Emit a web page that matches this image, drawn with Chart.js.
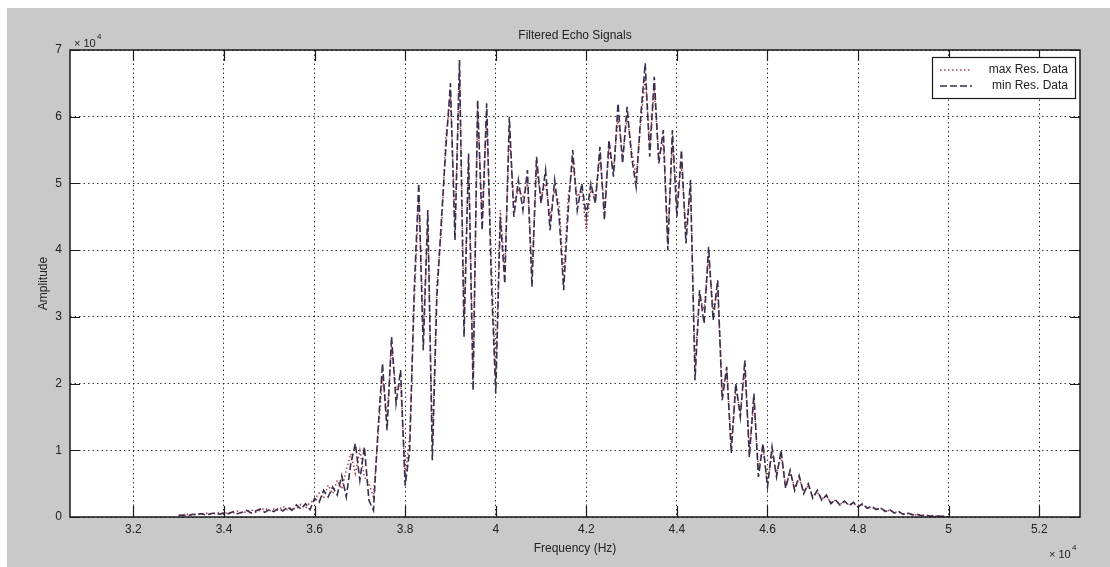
<!DOCTYPE html>
<html>
<head>
<meta charset="utf-8">
<title>Filtered Echo Signals</title>
<script src="https://cdn.jsdelivr.net/npm/chart.js@4.4.0/dist/chart.umd.min.js"></script>
<style>
  html, body { margin: 0; padding: 0; background: #fff; }
  canvas { display: block; }
</style>
</head>
<body>
<canvas id="echoChart" width="1110" height="567"></canvas>
<script>
// spectrum samples, frequency in units of 1e4 Hz, amplitude in units of 1e4
const freqStart = 3.30;
const freqStep = 0.01;

const minResData = [
  0.02, 0.03, 0.02, 0.04, 0.03, 0.05, 0.03, 0.05, 0.06, 0.04,
  0.06, 0.05, 0.08, 0.05, 0.07, 0.10, 0.06, 0.09, 0.12, 0.07,
  0.11, 0.08, 0.13, 0.09, 0.15, 0.10, 0.18, 0.12, 0.20, 0.11,
  0.28, 0.22, 0.40, 0.30, 0.45, 0.33, 0.62, 0.30, 0.80, 1.10,
  0.55, 1.05, 0.25, 0.10, 1.30, 2.30, 1.30, 2.70, 1.70, 2.20,
  0.47, 1.00, 3.40, 5.00, 2.50, 4.60, 0.85, 3.30, 4.45, 5.55,
  6.50, 4.15, 6.85, 2.70, 5.45, 1.90, 6.25, 4.30, 6.20, 3.60,
  1.85, 4.50, 3.50, 6.00, 4.50, 5.05, 4.60, 5.20, 3.45, 5.40,
  4.70, 5.20, 4.30, 5.05, 4.50, 3.40, 4.60, 5.50, 4.60, 5.00,
  4.50, 5.00, 4.70, 5.55, 4.45, 5.65, 5.10, 6.20, 5.30, 6.15,
  5.40, 4.95, 6.00, 6.80, 5.40, 6.60, 5.30, 5.80, 4.00, 5.80,
  4.50, 5.50, 4.10, 5.05, 2.05, 3.40, 2.90, 4.05, 2.95, 3.55,
  1.75, 2.25, 0.96, 2.00, 1.50, 2.35, 0.90, 1.85, 0.60, 1.10,
  0.45, 1.05, 0.60, 1.00, 0.43, 0.70, 0.40, 0.62, 0.35, 0.50,
  0.28, 0.40, 0.25, 0.33, 0.20, 0.26, 0.18, 0.24, 0.17, 0.22,
  0.15, 0.20, 0.13, 0.16, 0.11, 0.14, 0.08, 0.11, 0.06, 0.08,
  0.04, 0.06, 0.03, 0.04, 0.02, 0.03, 0.01, 0.02, 0.01, 0.01,
  0.00
];

const maxResData = [
  0.03, 0.02, 0.04, 0.03, 0.05, 0.04, 0.06, 0.04, 0.05, 0.07,
  0.05, 0.07, 0.06, 0.09, 0.06, 0.08, 0.11, 0.07, 0.10, 0.13,
  0.09, 0.12, 0.10, 0.16, 0.11, 0.14, 0.12, 0.19, 0.13, 0.22,
  0.25, 0.36, 0.28, 0.48, 0.35, 0.55, 0.42, 0.70, 0.95, 0.65,
  1.00, 0.60, 0.50, 0.30, 1.20, 2.10, 1.50, 2.55, 1.90, 2.00,
  0.60, 1.20, 3.20, 4.80, 2.80, 4.40, 1.10, 3.50, 4.30, 5.70,
  6.30, 4.40, 6.70, 3.00, 5.30, 2.20, 6.10, 4.50, 6.00, 3.90,
  2.10, 4.60, 3.70, 5.80, 4.70, 4.90, 4.80, 5.00, 3.70, 5.20,
  4.80, 5.00, 4.50, 4.90, 4.70, 3.60, 4.80, 5.30, 4.80, 4.90,
  4.30, 4.90, 4.80, 5.40, 4.60, 5.50, 5.20, 6.00, 5.40, 6.00,
  5.50, 5.10, 5.90, 6.60, 5.60, 6.40, 5.40, 5.60, 4.20, 5.60,
  4.70, 5.30, 4.30, 4.90, 2.30, 3.30, 3.10, 3.90, 3.10, 3.40,
  1.90, 2.15, 1.10, 1.90, 1.60, 2.20, 1.00, 1.75, 0.70, 1.05,
  0.50, 0.95, 0.65, 0.92, 0.48, 0.66, 0.44, 0.58, 0.38, 0.47,
  0.31, 0.37, 0.27, 0.31, 0.22, 0.25, 0.19, 0.23, 0.18, 0.20,
  0.16, 0.18, 0.14, 0.15, 0.12, 0.13, 0.09, 0.10, 0.07, 0.07,
  0.05, 0.05, 0.04, 0.03, 0.03, 0.02, 0.02, 0.01, 0.01, 0.01,
  0.00
];

const freqTicks = [3.2, 3.4, 3.6, 3.8, 4, 4.2, 4.4, 4.6, 4.8, 5, 5.2];
const ampTicks = [0, 1, 2, 3, 4, 5, 6, 7];

const seriesNames = ['max Res. Data', 'min Res. Data'];
const titleText = 'Filtered Echo Signals';
const xTitle = 'Frequency (Hz)';
const yTitle = 'Amplitude';

const FONT = '"Liberation Sans", Arial, sans-serif';
const TEXT = '#222';

const toPoints = vals => vals.map((v, i) => ({ x: +(freqStart + i * freqStep).toFixed(2), y: v }));

// gray figure, white axes, box, inner ticks, labels and legend
const matlabAxes = {
  id: 'matlabAxes',
  beforeDraw(chart) {
    const { ctx, width, height, chartArea: a } = chart;
    ctx.save();
    ctx.fillStyle = '#fff';
    ctx.fillRect(0, 0, width, height);
    ctx.fillStyle = '#c9c9c9';
    ctx.fillRect(7, 8, width - 7, height - 8);
    ctx.fillStyle = '#fff';
    ctx.fillRect(a.left, a.top, a.right - a.left, a.bottom - a.top);
    ctx.restore();
  },
  afterDraw(chart) {
    const { ctx, chartArea: a, scales: { x, y } } = chart;
    ctx.save();

    // box + tick marks
    ctx.strokeStyle = '#1a1a1a';
    ctx.lineWidth = 1.5;
    ctx.strokeRect(a.left, a.top, a.right - a.left, a.bottom - a.top);
    ctx.lineWidth = 1.2;
    ctx.beginPath();
    freqTicks.forEach(v => {
      const px = Math.round(x.getPixelForValue(v)) + 0.5;
      ctx.moveTo(px, a.bottom); ctx.lineTo(px, a.bottom - 11);
      ctx.moveTo(px, a.top); ctx.lineTo(px, a.top + 11);
    });
    ampTicks.forEach(v => {
      const py = Math.round(y.getPixelForValue(v)) + 0.5;
      ctx.moveTo(a.left, py); ctx.lineTo(a.left + 10, py);
      ctx.moveTo(a.right, py); ctx.lineTo(a.right - 10, py);
    });
    ctx.stroke();

    // titles
    const cx = (a.left + a.right) / 2;
    ctx.fillStyle = TEXT;
    ctx.textBaseline = 'middle';
    ctx.textAlign = 'center';
    ctx.font = '12px ' + FONT;
    ctx.fillText(titleText, cx, 36);
    ctx.fillText(xTitle, cx, 549);
    ctx.save();
    ctx.translate(44, (a.top + a.bottom) / 2);
    ctx.rotate(-Math.PI / 2);
    ctx.fillText(yTitle, 0, 0);
    ctx.restore();

    // axis multipliers
    ctx.textAlign = 'left';
    ctx.font = '11px ' + FONT;
    ctx.fillText('\u00d7 10', 74, 44);
    ctx.fillText('\u00d7 10', 1049, 555);
    ctx.font = '8px ' + FONT;
    ctx.fillText('4', 97, 37);
    ctx.fillText('4', 1072, 548);

    // legend
    const lx = 932, ly = 57, lw = 143, lh = 41;
    ctx.fillStyle = '#fff';
    ctx.fillRect(lx, ly, lw, lh);
    ctx.strokeStyle = '#1a1a1a';
    ctx.lineWidth = 1.2;
    ctx.strokeRect(lx + 0.5, ly + 0.5, lw, lh);
    const rows = [
      { y: 70, color: maxColor, dash: [1.5, 2.5] },
      { y: 86, color: minColor, dash: [7, 3] }
    ];
    rows.forEach((r, i) => {
      ctx.beginPath();
      ctx.setLineDash(r.dash);
      ctx.strokeStyle = r.color;
      ctx.lineWidth = 1.5;
      ctx.moveTo(940, r.y); ctx.lineTo(972, r.y);
      ctx.stroke();
      ctx.setLineDash([]);
      ctx.fillStyle = TEXT;
      ctx.textAlign = 'right';
      ctx.font = '12px ' + FONT;
      ctx.fillText(seriesNames[i], 1068, r.y);
    });
    ctx.restore();
  }
};

const maxColor = '#a8404e';
const minColor = '#3a2d4e';

const gridOpts = { color: 'rgba(0,0,0,0.8)', lineWidth: 1, drawTicks: false };

const ctx = document.getElementById('echoChart').getContext('2d');

const echoChart = new Chart(ctx, {
  type: 'line',
  data: {
    datasets: [
      {
        label: seriesNames[1],
        data: toPoints(minResData),
        borderColor: minColor,
        borderWidth: 1.6,
        borderDash: [7, 3],
        order: 1
      },
      {
        label: seriesNames[0],
        data: toPoints(maxResData),
        borderColor: maxColor,
        borderWidth: 1.5,
        borderDash: [1.5, 2.5],
        order: 2
      }
    ]
  },
  options: {
    responsive: false,
    animation: false,
    layout: { padding: { top: 50, right: 30, left: 0, bottom: 0 } },
    elements: { point: { radius: 0 }, line: { tension: 0, fill: false } },
    plugins: {
      legend: { display: false },
      tooltip: { enabled: false }
    },
    scales: {
      x: {
        type: 'linear',
        min: 3.06,
        max: 5.29,
        afterFit: s => { s.height = 50; },
        afterBuildTicks: s => { s.ticks = freqTicks.map(v => ({ value: v })); },
        ticks: {
          padding: 5,
          color: TEXT,
          maxRotation: 0,
          autoSkip: false,
          font: { family: FONT, size: 12 },
          callback: v => String(v)
        },
        grid: gridOpts,
        border: { display: false, dash: [1.5, 3] }
      },
      y: {
        type: 'linear',
        min: 0,
        max: 7,
        afterFit: s => { s.width = 70; },
        afterBuildTicks: s => { s.ticks = ampTicks.map(v => ({ value: v })); },
        ticks: {
          padding: 8,
          color: TEXT,
          font: { family: FONT, size: 12 },
          callback: v => String(v)
        },
        grid: gridOpts,
        border: { display: false, dash: [1.5, 3] }
      }
    }
  },
  plugins: [matlabAxes]
});
</script>
</body>
</html>
